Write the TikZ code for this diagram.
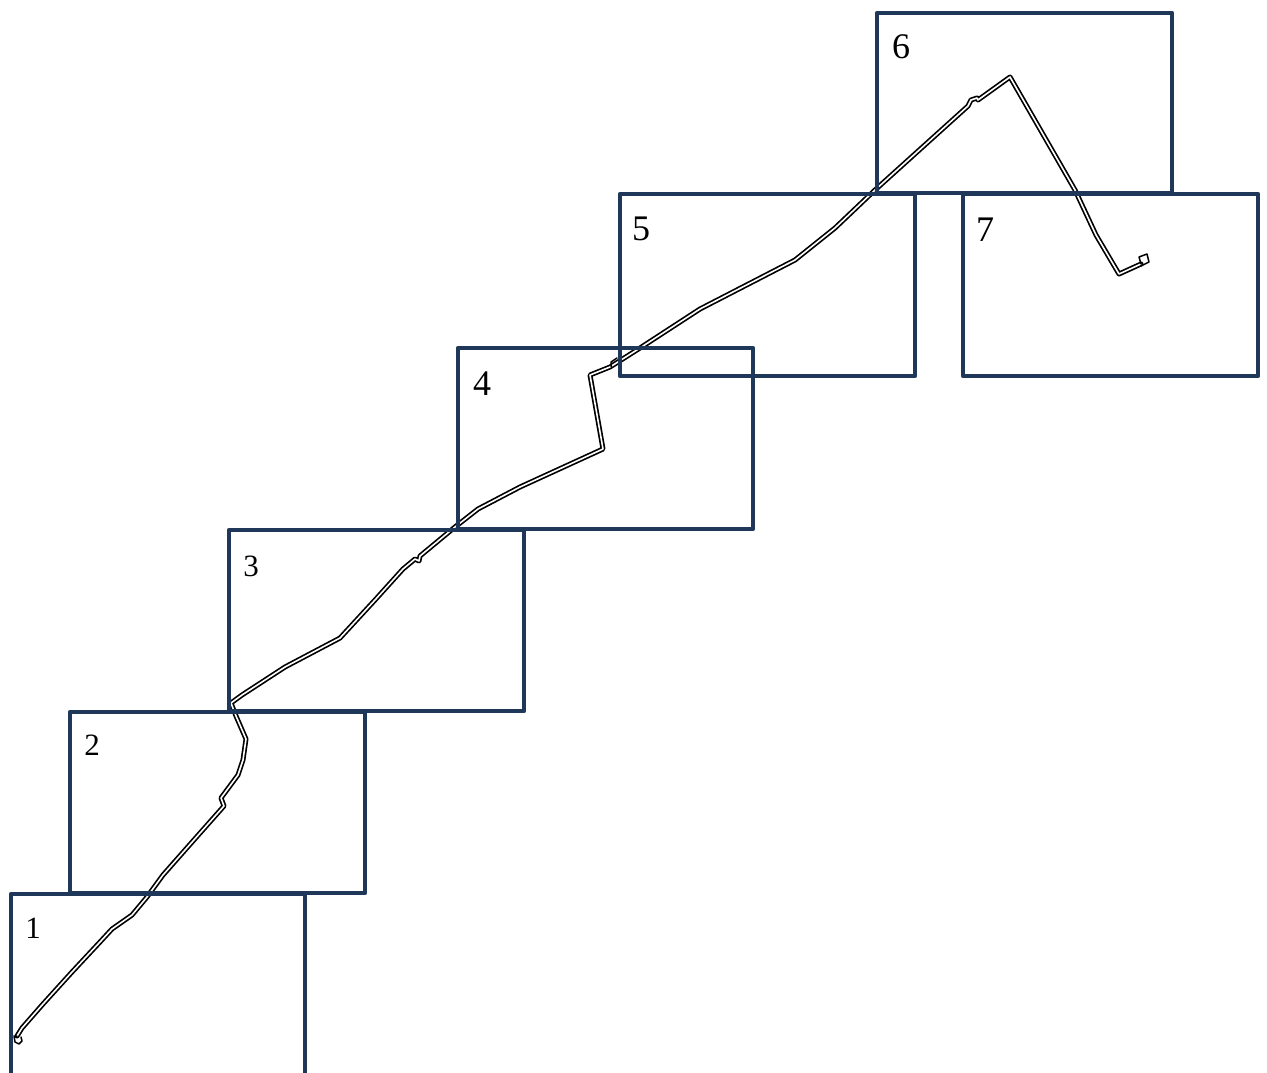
\documentclass[tikz,border=0pt]{standalone}
\usepackage{fontspec}
\setmainfont{Liberation Serif}
\definecolor{frame}{HTML}{1F3859}
\tikzset{
  sheet/.style={draw=frame,line width=4.5pt,line join=round,outer sep=0pt,inner sep=0pt,anchor=north west},
  num/.style={anchor=center,text=black,inner sep=0pt},
  route/.style={draw=black,line width=1.7pt,double=white,double distance=1.6pt,line join=round,line cap=round},
  routeend/.style={draw=black,line width=1.5pt,line join=round,line cap=round}
}
\begin{document}
\begin{tikzpicture}[x=1pt,y=-1pt]
\useasboundingbox (0,0) rectangle (1267,1073);
\fill[white] (0,0) rectangle (1267,1073);
% route
\draw[route] (17,1036) -- (22,1028) -- (43,1004) -- (72,972) -- (100,942) -- (112,929) -- (132,915) -- (147,897)
  -- (163,875) -- (193,841) -- (224,806) -- (221,798) -- (238,775) -- (243,760) -- (246,739) -- (236,716) -- (231,703)
  -- (242,695) -- (285,667) -- (340,638) -- (375,600) -- (403,569) -- (415,559) -- (419,561) -- (420,556) -- (455,527) -- (478,509) -- (520,487) -- (603,449)
  -- (590,375) -- (610,367) -- (640,348) -- (700,309) -- (795,260) -- (835,228) -- (875,190)
  -- (968,106) -- (971,100) -- (977,98) -- (978,100) -- (1010,77) -- (1075,190) -- (1096,235) -- (1119,274) -- (1141,264);
\draw[routeend] (17,1036) -- (14,1036) -- (15,1042) -- (19,1044) -- (22,1041) -- (21,1037);
\draw[routeend] (1141,264) -- (1139,257) -- (1147,254) -- (1149,262) -- (1141,266);
\draw[routeend] (611,367) -- (611,362) -- (617,358);
% sheets
\node[sheet,minimum width=294pt,minimum height=181pt] (s1) at (11,894) {};
\node[sheet,minimum width=295pt,minimum height=181pt] (s2) at (70,712) {};
\node[sheet,minimum width=295pt,minimum height=181pt] (s3) at (229,530) {};
\node[sheet,minimum width=295pt,minimum height=181pt] (s4) at (458,348) {};
\node[sheet,minimum width=295pt,minimum height=182pt] (s5) at (620,194) {};
\node[sheet,minimum width=295pt,minimum height=180pt] (s6) at (877,13) {};
\node[sheet,minimum width=295pt,minimum height=182pt] (s7) at (963,194) {};
% labels
\node[num,font=\fontsize{31}{31}\selectfont] (n1) at (33,928) {1};
\node[num,font=\fontsize{31}{31}\selectfont] (n2) at (92,745) {2};
\node[num,font=\fontsize{31}{31}\selectfont] (n3) at (251,566) {3};
\node[num,font=\fontsize{36}{36}\selectfont] (n4) at (482,384) {4};
\node[num,font=\fontsize{36}{36}\selectfont] (n5) at (641,229) {5};
\node[num,font=\fontsize{36}{36}\selectfont] (n6) at (901,47) {6};
\node[num,font=\fontsize{36}{36}\selectfont] (n7) at (985,230) {7};
\end{tikzpicture}
\end{document}
